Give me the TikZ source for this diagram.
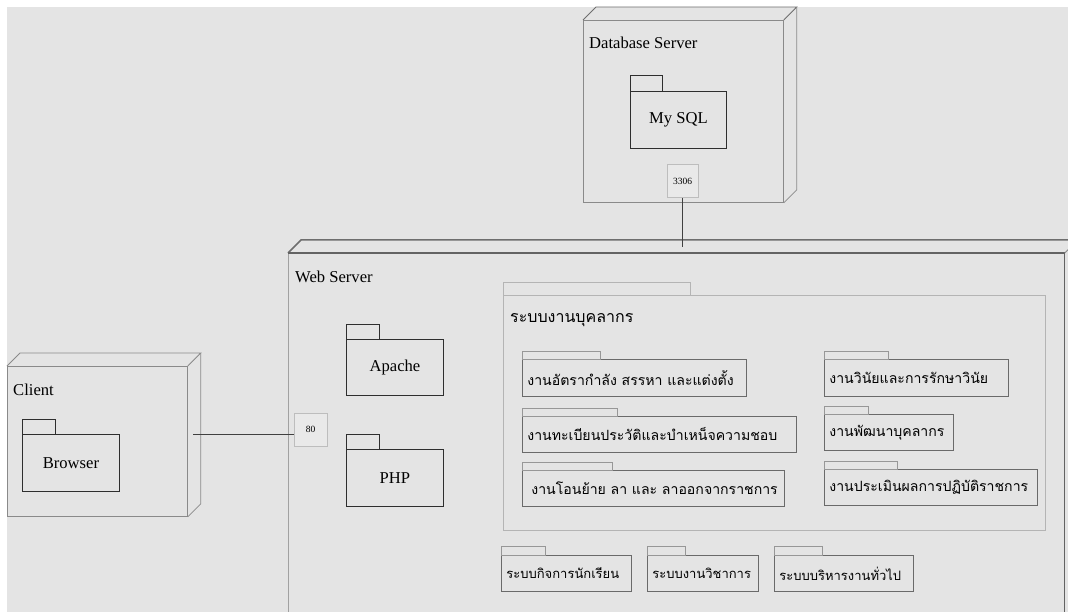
\documentclass[tikz,border=0pt]{standalone}
\usepackage{fontspec}
\setmainfont{Liberation Serif}
\newfontfamily\thaifont[Script=Thai]{Loma}
\usetikzlibrary{calc}
\definecolor{canvas}{HTML}{E4E4E4}
\definecolor{nodeline}{HTML}{8A8A8A}
\definecolor{nodetop}{HTML}{6E6E6E}
\definecolor{pkgline}{HTML}{2E2E2E}
\definecolor{subline}{HTML}{6A6A6A}
\definecolor{groupline}{HTML}{B4B4B4}
\definecolor{portline}{HTML}{BDBDBD}
\definecolor{portfill}{HTML}{E9E9E9}

% 3D node: front face is the named node, depth drawn behind it
\newcommand\nodedepth[2][nodeline]{%
  \draw[#1, line width=0.8pt] (#2.north west) -- ++(13,-13) -- ($(#2.north east)+(13,-13)$) -- (#2.north east);
  \draw[nodeline, line width=0.8pt] ($(#2.north east)+(13,-13)$) -- ($(#2.south east)+(13,-13)$) -- (#2.south east);
}
% package tab above a package body
\newcommand\pkgtab[4][pkgline]{%
  \draw[#1, line width=0.9pt] (#2.north west) rectangle ++(#3,-#4);
}

\begin{document}
\begin{tikzpicture}[x=1pt,y=-1pt,
  nodeface/.style={draw=nodeline, line width=0.8pt, anchor=north west, inner sep=0pt},
  nodetitle/.style={anchor=west, inner sep=0pt, font=\fontsize{16.6}{20}\selectfont},
  pkgmain/.style={draw=pkgline, line width=0.9pt, anchor=north west, inner sep=0pt,
    font=\fontsize{16.6}{20}\selectfont},
  pkgsub/.style={draw=subline, line width=0.8pt, anchor=north west, inner xsep=5pt, inner ysep=0pt,
    align=left, font=\thaifont\fontsize{13}{16}\selectfont},
  pkginner/.style={pkgsub, font=\thaifont\fontsize{14.1}{17}\selectfont},
  port/.style={draw=portline, fill=portfill, line width=0.6pt, inner sep=0pt,
    font=\fontsize{9.5}{11}\selectfont},
  link/.style={draw=black!75, line width=0.8pt}]

\clip (0,0) rectangle (1068,612);
\fill[white] (0,0) rectangle (1068,612);
\fill[canvas] (7,7) rectangle (1068,612);

% ---------- Database Server ----------
\node[nodeface, minimum width=200pt, minimum height=182pt] (db) at (583,20) {};
\nodedepth[nodetop]{db}
\node[nodetitle] (dbtitle) at (589,43) {Database Server};
\node[pkgmain, minimum width=96pt, minimum height=57pt] (mysql) at (630,91) {My SQL};
\pkgtab{mysql}{32}{16}
\node[port, minimum width=31pt, minimum height=33pt] (p3306) at (682.5,181) {3306};

% ---------- Client ----------
\node[nodeface, minimum width=180pt, minimum height=150pt] (client) at (7,366) {};
\nodedepth{client}
\node[nodetitle] (clienttitle) at (13,390) {Client};
\node[pkgmain, minimum width=97pt, minimum height=57pt] (browser) at (22,434) {Browser};
\pkgtab{browser}{33}{15}

% ---------- Web Server ----------
\node[nodeface, draw=nodeline!80, minimum width=776pt, minimum height=387pt] (web) at (288,253) {};
\draw[nodetop, line width=1.5pt] (web.north west) -- ++(13,-13) -- ($(web.north east)+(13,-13)$);
\draw[nodetop!90!black, line width=1.3pt] (web.north west) -- (web.north east) -- (web.south east);
\draw[nodeline, line width=0.8pt] (web.north east) -- ++(13,-13);
\node[nodetitle] (webtitle) at (295,277) {Web Server};
\node[pkgmain, minimum width=97pt, minimum height=56pt] (apache) at (346,339) {Apache};
\pkgtab{apache}{33}{15}
\node[pkgmain, minimum width=97pt, minimum height=57pt] (php) at (346,449) {PHP};
\pkgtab{php}{33}{15}
\node[port, minimum width=33pt, minimum height=33pt] (p80) at (310.5,429.5) {80};

% personnel system group
\node[draw=groupline, line width=0.7pt, anchor=north west, inner sep=0pt,
  minimum width=542pt, minimum height=235pt] (hr) at (503,295) {};
\pkgtab[groupline]{hr}{187}{13}
\node[anchor=west, inner sep=0pt, font=\thaifont\fontsize{16}{20}\selectfont] (hrtitle) at (510,320) {ระบบงานบุคลากร};

\node[pkginner, minimum height=37pt, text width=214pt] (s1) at (522,359) {งานอัตรากำลัง สรรหา และแต่งตั้ง};
\pkgtab[subline!70]{s1}{78}{8}
\node[pkginner, minimum height=36pt, text width=264pt] (s2) at (522,416) {งานทะเบียนประวัติและบำเหน็จความชอบ};
\pkgtab[subline!70]{s2}{95}{8}
\node[pkginner, minimum height=36pt, text width=252pt] (s3) at (522,470) {\hspace{4pt}งานโอนย้าย ลา และ ลาออกจากราชการ};
\pkgtab[subline!70]{s3}{90}{8}
\node[pkginner, minimum height=37pt, text width=174pt] (s4) at (824,359) {งานวินัยและการรักษาวินัย};
\pkgtab[subline!70]{s4}{64}{8}
\node[pkginner, minimum height=36pt, text width=119pt] (s5) at (824,414) {งานพัฒนาบุคลากร};
\pkgtab[subline!70]{s5}{44}{8}
\node[pkginner, minimum height=36pt, text width=203pt] (s6) at (824,469) {งานประเมินผลการปฏิบัติราชการ};
\pkgtab[subline!70]{s6}{73}{8}

% other systems
\node[pkgsub, minimum height=36pt, text width=120pt] (s7) at (501,555) {ระบบกิจการนักเรียน};
\pkgtab[subline!70]{s7}{44}{9}
\node[pkgsub, minimum height=36pt, text width=101pt] (s8) at (647,555) {ระบบงานวิชาการ};
\pkgtab[subline!70]{s8}{38}{9}
\node[pkgsub, minimum height=36pt, text width=129pt] (s9) at (774,555) {ระบบบริหารงานทั่วไป};
\pkgtab[subline!70]{s9}{48}{9}

% ---------- connections ----------
\coordinate (webtop) at (682.5,247);
\coordinate (clientside) at (193,434);
\draw[link] (p3306.south) -- (webtop);
\draw[link] (clientside) -- (clientside -| p80.west);
\end{tikzpicture}
\end{document}
